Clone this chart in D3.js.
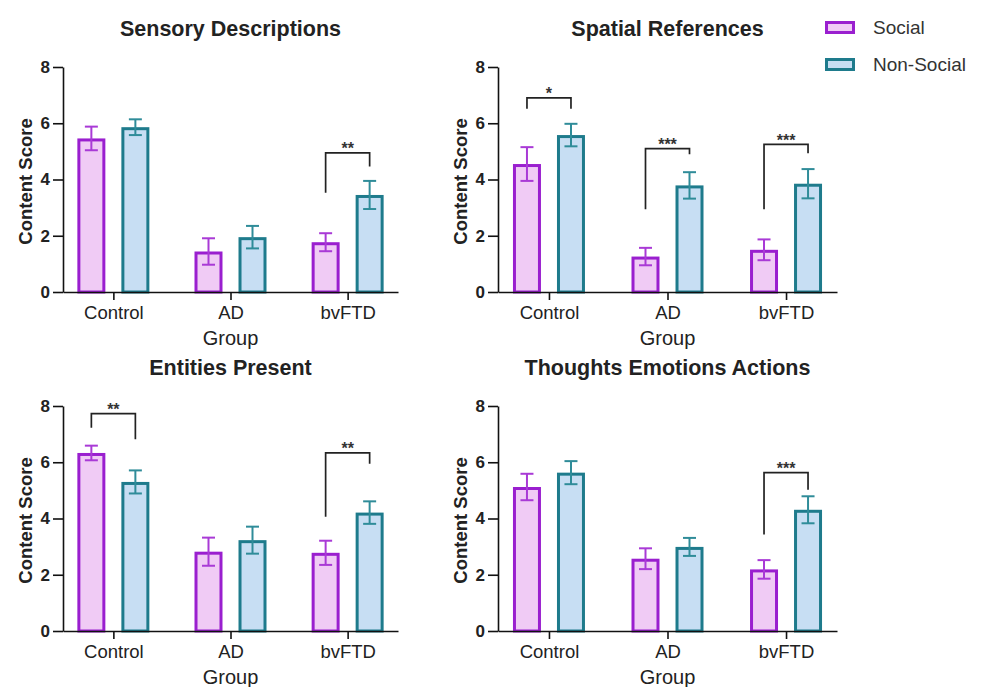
<!DOCTYPE html>
<html><head><meta charset="utf-8">
<script src="https://cdn.jsdelivr.net/npm/d3@7"></script>
<style>body{margin:0;background:#fff}svg{display:block;font-family:"Liberation Sans",Arial,sans-serif}</style>
</head><body><svg id="c" width="989" height="687"></svg>
<script>
const groups = ["Control", "AD", "bvFTD"];
const seriesNames = ["Social", "Non-Social"];
const yTicks = [0, 2, 4, 6, 8];
const panelTitles = ["Sensory Descriptions", "Spatial References", "Entities Present", "Thoughts Emotions Actions"];

// means and SEM per panel: [Control, AD, bvFTD]
const sensorySocial = [5.46, 1.44, 1.77];
const sensorySocialErr = [0.42, 0.47, 0.32];
const sensoryNonSocial = [5.86, 1.95, 3.45];
const sensoryNonSocialErr = [0.28, 0.40, 0.50];

const spatialSocial = [4.55, 1.26, 1.50];
const spatialSocialErr = [0.60, 0.31, 0.37];
const spatialNonSocial = [5.58, 3.79, 3.85];
const spatialNonSocialErr = [0.40, 0.47, 0.52];

const entitiesSocial = [6.33, 2.82, 2.78];
const entitiesSocialErr = [0.26, 0.50, 0.43];
const entitiesNonSocial = [5.30, 3.23, 4.21];
const entitiesNonSocialErr = [0.41, 0.48, 0.40];

const thoughtsSocial = [5.12, 2.57, 2.19];
const thoughtsSocialErr = [0.47, 0.37, 0.33];
const thoughtsNonSocial = [5.63, 2.99, 4.31];
const thoughtsNonSocialErr = [0.41, 0.32, 0.48];

// significance brackets: [group, label, topY, leftLegEndY, rightLegEndY]
const sensorySig = [["bvFTD", "**", 4.95, 3.53, 4.46]];
const spatialSig = [["Control", "*", 6.9, 6.52, 6.52], ["AD", "***", 5.1, 2.94, 4.9], ["bvFTD", "***", 5.25, 2.94, 4.93]];
const entitiesSig = [["Control", "**", 7.73, 7.23, 6.82], ["bvFTD", "**", 6.33, 4.06, 5.95]];
const thoughtsSig = [["bvFTD", "***", 5.63, 3.43, 5.02]];

const panelData = [
  {social: sensorySocial, socialErr: sensorySocialErr, non: sensoryNonSocial, nonErr: sensoryNonSocialErr, sig: sensorySig},
  {social: spatialSocial, socialErr: spatialSocialErr, non: spatialNonSocial, nonErr: spatialNonSocialErr, sig: spatialSig},
  {social: entitiesSocial, socialErr: entitiesSocialErr, non: entitiesNonSocial, nonErr: entitiesNonSocialErr, sig: entitiesSig},
  {social: thoughtsSocial, socialErr: thoughtsSocialErr, non: thoughtsNonSocial, nonErr: thoughtsNonSocialErr, sig: thoughtsSig}
];

const strokeCol = {"Social": "#9a1fcf", "Non-Social": "#1e7b8c"};
const errCol = {"Social": "#a93ad6", "Non-Social": "#2f8c99"};
const fillCol = {"Social": "#f0cbf5", "Non-Social": "#c7def3"};
const FONT = '"Liberation Sans",Arial,sans-serif';

const layout = [
  {x0: 63, x1: 398, yb: 292, yt: 67},
  {x0: 498, x1: 837, yb: 292, yt: 67},
  {x0: 63, x1: 398, yb: 631, yt: 406},
  {x0: 498, x1: 837, yb: 631, yt: 406}
];

const svg = d3.select("#c");

panelData.forEach((pd, i) => {
  const L = layout[i];
  const g = svg.append("g");
  const x = d3.scalePoint().domain(groups).range([L.x0, L.x1]).padding(0.43);
  const xs = d3.scaleBand().domain(seriesNames).range([-36, 36]).paddingInner(0.364);
  const y = d3.scaleLinear().domain([0, 8]).range([L.yb, L.yt]);
  const sw = 3;

  const rows = [];
  groups.forEach((gr, j) => {
    rows.push({g: gr, s: "Social", v: pd.social[j], e: pd.socialErr[j]});
    rows.push({g: gr, s: "Non-Social", v: pd.non[j], e: pd.nonErr[j]});
  });

  // bars
  g.selectAll("rect.bar").data(rows).join("rect").attr("class", "bar")
    .attr("x", d => x(d.g) + xs(d.s) + sw / 2)
    .attr("width", xs.bandwidth() - sw)
    .attr("y", d => y(d.v) + sw / 2)
    .attr("height", d => y(0) - y(d.v) - sw / 2)
    .attr("fill", d => fillCol[d.s])
    .attr("stroke", d => strokeCol[d.s])
    .attr("stroke-width", sw);

  // error bars
  const cx = d => x(d.g) + xs(d.s) + xs.bandwidth() / 2;
  const eb = g.selectAll("g.err").data(rows).join("g").attr("class", "err")
    .attr("stroke", d => errCol[d.s]).attr("stroke-width", 2).attr("fill", "none");
  eb.append("line").attr("x1", cx).attr("x2", cx).attr("y1", d => y(d.v + d.e)).attr("y2", d => y(d.v - d.e));
  eb.append("line").attr("x1", d => cx(d) - 6.5).attr("x2", d => cx(d) + 6.5).attr("y1", d => y(d.v + d.e)).attr("y2", d => y(d.v + d.e));
  eb.append("line").attr("x1", d => cx(d) - 6.5).attr("x2", d => cx(d) + 6.5).attr("y1", d => y(d.v - d.e)).attr("y2", d => y(d.v - d.e));

  // axes
  const yAxis = g.append("g").attr("transform", `translate(${L.x0},0)`)
    .call(d3.axisLeft(y).tickValues(yTicks).tickSize(10).tickSizeOuter(0).tickFormat(d3.format("d")));
  yAxis.select(".domain").attr("stroke", "#111").attr("stroke-width", 1.6);
  yAxis.selectAll(".tick line").attr("stroke", "#111").attr("stroke-width", 1.6);
  yAxis.selectAll(".tick text").attr("font-size", 17).attr("font-weight", "bold").attr("fill", "#222").attr("x", -13)
    .attr("font-family", FONT);

  const xAxis = g.append("g").attr("transform", `translate(0,${L.yb})`)
    .call(d3.axisBottom(x).tickSize(8).tickSizeOuter(0));
  xAxis.select(".domain").attr("stroke", "#111").attr("stroke-width", 1.6);
  xAxis.selectAll(".tick line").attr("stroke", "#111").attr("stroke-width", 1.6);
  xAxis.selectAll(".tick text").attr("font-size", 18.5).attr("fill", "#222").attr("y", 14)
    .attr("font-family", FONT);

  // titles
  g.append("text").attr("x", x("AD")).attr("y", L.yt - 31).attr("text-anchor", "middle")
    .attr("font-size", 21.5).attr("font-weight", "bold").attr("fill", "#222").text(panelTitles[i]);
  g.append("text").attr("x", x("AD")).attr("y", L.yb + 53).attr("text-anchor", "middle")
    .attr("font-size", 20).attr("fill", "#222").text("Group");
  g.append("text").attr("transform", `translate(${L.x0 - 31},${(L.yb + L.yt) / 2 + 2}) rotate(-90)`)
    .attr("text-anchor", "middle").attr("font-size", 18.5).attr("font-weight", "bold").attr("fill", "#222").text("Content Score");

  // significance brackets
  pd.sig.forEach(s => {
    const xl = x(s[0]) + xs("Social") + xs.bandwidth() / 2;
    const xr = x(s[0]) + xs("Non-Social") + xs.bandwidth() / 2;
    g.append("path")
      .attr("d", `M${xl},${y(s[3])}V${y(s[2])}H${xr}V${y(s[4])}`)
      .attr("fill", "none").attr("stroke", "#222").attr("stroke-width", 1.7);
    g.append("text").attr("x", (xl + xr) / 2).attr("y", y(s[2]) + 1.5).attr("text-anchor", "middle")
      .attr("font-size", 16).attr("font-weight", "bold").attr("fill", "#333").text(s[1]);
  });
});

// legend
const lg = svg.append("g");
seriesNames.forEach((s, k) => {
  const yy = 21 + k * 37;
  lg.append("rect").attr("x", 826.5).attr("y", yy + 1.5).attr("width", 27).attr("height", 10)
    .attr("fill", fillCol[s]).attr("stroke", strokeCol[s]).attr("stroke-width", 3);
  lg.append("text").attr("x", 873).attr("y", yy + 13).attr("font-size", 19).attr("fill", "#333").text(s);
});
</script></body></html>
